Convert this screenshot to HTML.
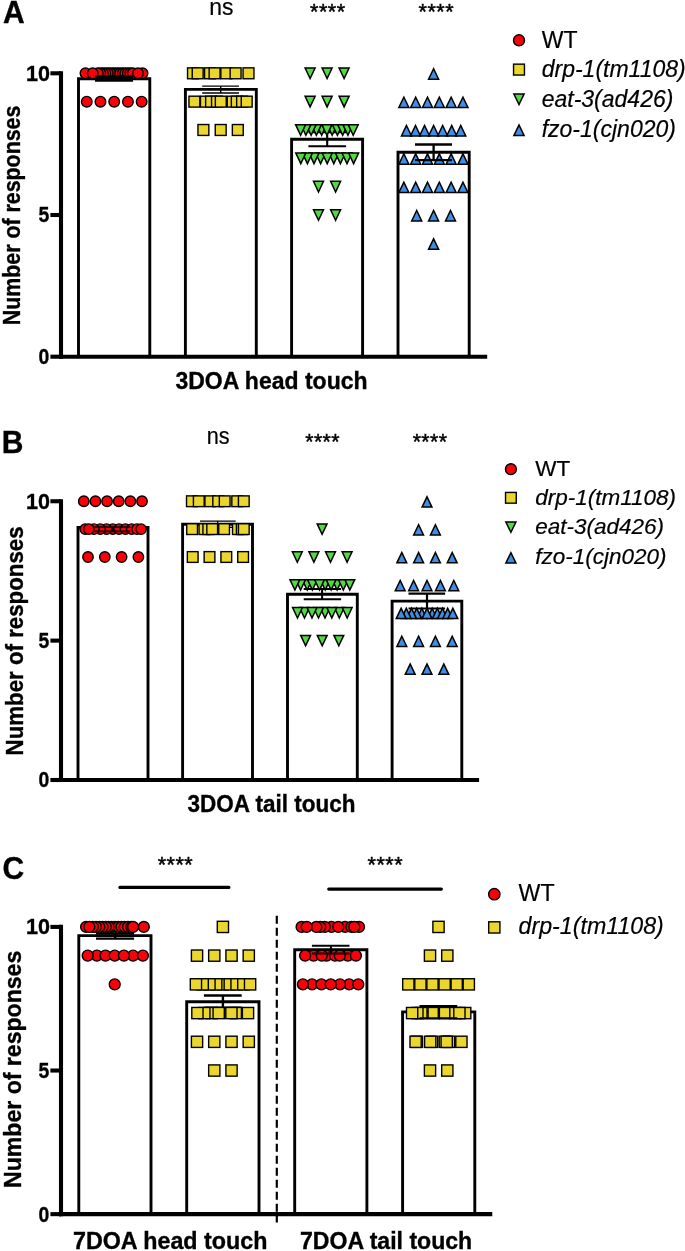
<!DOCTYPE html>
<html lang="en">
<head>
<meta charset="utf-8">
<title>Figure: touch responses</title>
<style>
html,body{margin:0;padding:0;background:#fff}
svg{display:block}
text{font-family:"Liberation Sans", sans-serif;fill:#000}
.c{fill:#fb0008;stroke:#000;stroke-width:1.4}
.s{fill:#ead62d;stroke:#000;stroke-width:1.4;stroke-linejoin:miter}
.d{fill:#52d943;stroke:#000;stroke-width:1.5;stroke-linejoin:miter}
.u{fill:#3f8ee6;stroke:#000;stroke-width:1.5;stroke-linejoin:miter}
</style>
</head>
<body>
<svg width="685" height="1251" viewBox="0 0 685 1251">
<rect x="0" y="0" width="685" height="1251" fill="#fff"/>
<g id="panelA">
<text x="3" y="23.4" font-size="30.8" font-weight="bold" stroke="#000" stroke-width="0.35" textLength="21.67" lengthAdjust="spacingAndGlyphs">A</text>
<text transform="translate(20 325.2) rotate(-90)" font-size="23.7" font-weight="bold" stroke="#000" stroke-width="0.35" textLength="219.5" lengthAdjust="spacingAndGlyphs">Number of responses</text>
<text x="271.5" y="388.5" font-size="23.7" font-weight="bold" stroke="#000" stroke-width="0.35" text-anchor="middle" textLength="192.1" lengthAdjust="spacingAndGlyphs">3DOA head touch</text>
<text x="221.3" y="15" font-size="24.5" stroke="#000" stroke-width="0.2" text-anchor="middle" textLength="24.2" lengthAdjust="spacingAndGlyphs">ns</text>
<text x="327.6" y="19" font-size="21.5" text-anchor="middle" textLength="35" stroke="#000" stroke-width="0.45">****</text>
<text x="436.1" y="19" font-size="21.5" text-anchor="middle" textLength="35" stroke="#000" stroke-width="0.45">****</text>
<path d="M78.5 356.7V78.7H149.8V356.7" fill="#fff" stroke="#000" stroke-width="2.9" stroke-linejoin="miter"/>
<path d="M185.4 356.7V89.4H256.3V356.7" fill="#fff" stroke="#000" stroke-width="2.9" stroke-linejoin="miter"/>
<path d="M291.6 356.7V139.2H362.6V356.7" fill="#fff" stroke="#000" stroke-width="2.9" stroke-linejoin="miter"/>
<path d="M398 356.7V152.2H469.2V356.7" fill="#fff" stroke="#000" stroke-width="2.9" stroke-linejoin="miter"/>
<circle cx="85.5" cy="73.3" r="5.3" class="c"/>
<circle cx="142.5" cy="73.3" r="5.3" class="c"/>
<circle cx="115.3" cy="73.3" r="5.3" class="c"/>
<circle cx="112.8" cy="73.3" r="5.3" class="c"/>
<circle cx="117.8" cy="73.3" r="5.3" class="c"/>
<circle cx="110.3" cy="73.3" r="5.3" class="c"/>
<circle cx="120.3" cy="73.3" r="5.3" class="c"/>
<circle cx="107.8" cy="73.3" r="5.3" class="c"/>
<circle cx="122.8" cy="73.3" r="5.3" class="c"/>
<circle cx="105.3" cy="73.3" r="5.3" class="c"/>
<circle cx="125.3" cy="73.3" r="5.3" class="c"/>
<circle cx="102.8" cy="73.3" r="5.3" class="c"/>
<circle cx="127.8" cy="73.3" r="5.3" class="c"/>
<circle cx="100.3" cy="73.3" r="5.3" class="c"/>
<circle cx="130.3" cy="73.3" r="5.3" class="c"/>
<circle cx="97.8" cy="73.3" r="5.3" class="c"/>
<circle cx="132.8" cy="73.3" r="5.3" class="c"/>
<circle cx="92.7" cy="73.3" r="5.3" class="c"/>
<circle cx="138" cy="73.3" r="5.3" class="c"/>
<circle cx="86.74" cy="101.64" r="5.3" class="c"/>
<circle cx="100.47" cy="101.64" r="5.3" class="c"/>
<circle cx="114.2" cy="101.64" r="5.3" class="c"/>
<circle cx="127.93" cy="101.64" r="5.3" class="c"/>
<circle cx="141.66" cy="101.64" r="5.3" class="c"/>
<line x1="114.3" y1="76.5" x2="114.3" y2="80.5" stroke="#000" stroke-width="2.4"/>
<line x1="95" y1="76.5" x2="133" y2="76.5" stroke="#000" stroke-width="2.4"/>
<line x1="95" y1="80.5" x2="133" y2="80.5" stroke="#000" stroke-width="2.4"/>
<line x1="95" y1="78.5" x2="133" y2="78.5" stroke="#000" stroke-width="3"/>
<line x1="220.7" y1="86.1" x2="220.7" y2="93" stroke="#000" stroke-width="1.4"/>
<line x1="202.2" y1="86.1" x2="239" y2="86.1" stroke="#000" stroke-width="1.4"/>
<line x1="202.2" y1="93" x2="239" y2="93" stroke="#000" stroke-width="1.4"/>
<rect x="187.55" y="67.85" width="10.9" height="10.9" class="s"/>
<rect x="192.25" y="67.85" width="10.9" height="10.9" class="s"/>
<rect x="204.55" y="67.85" width="10.9" height="10.9" class="s"/>
<rect x="209.15" y="67.85" width="10.9" height="10.9" class="s"/>
<rect x="220.85" y="67.85" width="10.9" height="10.9" class="s"/>
<rect x="230.15" y="67.85" width="10.9" height="10.9" class="s"/>
<rect x="243.05" y="67.85" width="10.9" height="10.9" class="s"/>
<rect x="188.95" y="96.19" width="10.9" height="10.9" class="s"/>
<rect x="200.45" y="96.19" width="10.9" height="10.9" class="s"/>
<rect x="205.65" y="96.19" width="10.9" height="10.9" class="s"/>
<rect x="211.55" y="96.19" width="10.9" height="10.9" class="s"/>
<rect x="215.35" y="96.19" width="10.9" height="10.9" class="s"/>
<rect x="227.25" y="96.19" width="10.9" height="10.9" class="s"/>
<rect x="231.35" y="96.19" width="10.9" height="10.9" class="s"/>
<rect x="236.65" y="96.19" width="10.9" height="10.9" class="s"/>
<rect x="241.25" y="96.19" width="10.9" height="10.9" class="s"/>
<rect x="197.95" y="124.53" width="10.9" height="10.9" class="s"/>
<rect x="215.25" y="124.53" width="10.9" height="10.9" class="s"/>
<rect x="232.35" y="124.53" width="10.9" height="10.9" class="s"/>
<line x1="327.2" y1="132.2" x2="327.2" y2="146.3" stroke="#000" stroke-width="2.1"/>
<line x1="308.4" y1="132.2" x2="346.1" y2="132.2" stroke="#000" stroke-width="2.1"/>
<line x1="308.4" y1="146.3" x2="346.1" y2="146.3" stroke="#000" stroke-width="2.1"/>
<path d="M305.1 68H315.1L310.1 78.6Z" class="d"/>
<path d="M322.1 68H332.1L327.1 78.6Z" class="d"/>
<path d="M339.1 68H349.1L344.1 78.6Z" class="d"/>
<path d="M305.1 96.34H315.1L310.1 106.94Z" class="d"/>
<path d="M322.1 96.34H332.1L327.1 106.94Z" class="d"/>
<path d="M339.1 96.34H349.1L344.1 106.94Z" class="d"/>
<path d="M316.64 124.68H326.64L321.64 135.28Z" class="d"/>
<path d="M327.16 124.68H337.16L332.16 135.28Z" class="d"/>
<path d="M311.38 124.68H321.38L316.38 135.28Z" class="d"/>
<path d="M332.42 124.68H342.42L337.42 135.28Z" class="d"/>
<path d="M306.12 124.68H316.12L311.12 135.28Z" class="d"/>
<path d="M337.68 124.68H347.68L342.68 135.28Z" class="d"/>
<path d="M300.86 124.68H310.86L305.86 135.28Z" class="d"/>
<path d="M342.94 124.68H352.94L347.94 135.28Z" class="d"/>
<path d="M295.6 124.68H305.6L300.6 135.28Z" class="d"/>
<path d="M348.2 124.68H358.2L353.2 135.28Z" class="d"/>
<path d="M321.9 124.68H331.9L326.9 135.28Z" class="d"/>
<path d="M315.6 153.02H325.6L320.6 163.62Z" class="d"/>
<path d="M328.8 153.02H338.8L333.8 163.62Z" class="d"/>
<path d="M309 153.02H319L314 163.62Z" class="d"/>
<path d="M335.4 153.02H345.4L340.4 163.62Z" class="d"/>
<path d="M302.4 153.02H312.4L307.4 163.62Z" class="d"/>
<path d="M342 153.02H352L347 163.62Z" class="d"/>
<path d="M295.8 153.02H305.8L300.8 163.62Z" class="d"/>
<path d="M348.6 153.02H358.6L353.6 163.62Z" class="d"/>
<path d="M322.2 153.02H332.2L327.2 163.62Z" class="d"/>
<path d="M313.5 181.36H323.5L318.5 191.96Z" class="d"/>
<path d="M330.6 181.36H340.6L335.6 191.96Z" class="d"/>
<path d="M313.5 209.7H323.5L318.5 220.3Z" class="d"/>
<path d="M330.6 209.7H340.6L335.6 220.3Z" class="d"/>
<path d="M428.6 79.2H438.6L433.6 68.8Z" class="u"/>
<path d="M398.85 107.54H408.85L403.85 97.14Z" class="u"/>
<path d="M410.67 107.54H420.67L415.67 97.14Z" class="u"/>
<path d="M422.49 107.54H432.49L427.49 97.14Z" class="u"/>
<path d="M434.31 107.54H444.31L439.31 97.14Z" class="u"/>
<path d="M446.13 107.54H456.13L451.13 97.14Z" class="u"/>
<path d="M457.95 107.54H467.95L462.95 97.14Z" class="u"/>
<path d="M401.45 135.88H411.45L406.45 125.48Z" class="u"/>
<path d="M410.5 135.88H420.5L415.5 125.48Z" class="u"/>
<path d="M419.55 135.88H429.55L424.55 125.48Z" class="u"/>
<path d="M428.6 135.88H438.6L433.6 125.48Z" class="u"/>
<path d="M437.65 135.88H447.65L442.65 125.48Z" class="u"/>
<path d="M446.7 135.88H456.7L451.7 125.48Z" class="u"/>
<path d="M455.75 135.88H465.75L460.75 125.48Z" class="u"/>
<path d="M398.85 164.22H408.85L403.85 153.82Z" class="u"/>
<path d="M410.67 164.22H420.67L415.67 153.82Z" class="u"/>
<path d="M422.49 164.22H432.49L427.49 153.82Z" class="u"/>
<path d="M434.31 164.22H444.31L439.31 153.82Z" class="u"/>
<path d="M446.13 164.22H456.13L451.13 153.82Z" class="u"/>
<path d="M457.95 164.22H467.95L462.95 153.82Z" class="u"/>
<path d="M398.85 192.56H408.85L403.85 182.16Z" class="u"/>
<path d="M410.67 192.56H420.67L415.67 182.16Z" class="u"/>
<path d="M422.49 192.56H432.49L427.49 182.16Z" class="u"/>
<path d="M434.31 192.56H444.31L439.31 182.16Z" class="u"/>
<path d="M446.13 192.56H456.13L451.13 182.16Z" class="u"/>
<path d="M457.95 192.56H467.95L462.95 182.16Z" class="u"/>
<path d="M411.7 220.9H421.7L416.7 210.5Z" class="u"/>
<path d="M428.6 220.9H438.6L433.6 210.5Z" class="u"/>
<path d="M445.5 220.9H455.5L450.5 210.5Z" class="u"/>
<path d="M428.6 249.24H438.6L433.6 238.84Z" class="u"/>
<line x1="433.6" y1="144.5" x2="433.6" y2="160.2" stroke="#000" stroke-width="2.3"/>
<line x1="415" y1="144.5" x2="452" y2="144.5" stroke="#000" stroke-width="2.3"/>
<line x1="415" y1="160.2" x2="452" y2="160.2" stroke="#000" stroke-width="2.3"/>
<line x1="61" y1="71.25" x2="61" y2="358.75" stroke="#000" stroke-width="4.1"/>
<line x1="58.95" y1="356.7" x2="487.2" y2="356.7" stroke="#000" stroke-width="4.1"/>
<line x1="50.4" y1="73.3" x2="61" y2="73.3" stroke="#000" stroke-width="4.1"/>
<text x="50" y="80.76" font-size="22.6" font-weight="bold" stroke="#000" stroke-width="0.35" text-anchor="end" textLength="24" lengthAdjust="spacingAndGlyphs">10</text>
<line x1="50.4" y1="215" x2="61" y2="215" stroke="#000" stroke-width="4.1"/>
<text x="49.2" y="222.46" font-size="22.6" font-weight="bold" stroke="#000" stroke-width="0.35" text-anchor="end" textLength="10.8" lengthAdjust="spacingAndGlyphs">5</text>
<line x1="50.4" y1="356.7" x2="61" y2="356.7" stroke="#000" stroke-width="4.1"/>
<text x="49.2" y="364.16" font-size="22.6" font-weight="bold" stroke="#000" stroke-width="0.35" text-anchor="end" textLength="10.8" lengthAdjust="spacingAndGlyphs">0</text>
<circle cx="519" cy="40.3" r="5.5" class="c"/>
<text x="541.7" y="47.6" font-size="23.69" stroke="#000" stroke-width="0.2" textLength="35.76" lengthAdjust="spacingAndGlyphs">WT</text>
<rect x="513.55" y="64.15" width="10.9" height="10.9" class="s"/>
<text x="541.7" y="76.7" font-size="23.69" stroke="#000" stroke-width="0.2" font-style="italic" textLength="144.02" lengthAdjust="spacingAndGlyphs">drp-1(tm1108)</text>
<path d="M513.9 94.1H524.1L519 104.5Z" class="d"/>
<text x="541.7" y="106.7" font-size="23.69" stroke="#000" stroke-width="0.2" font-style="italic" textLength="131.7" lengthAdjust="spacingAndGlyphs">eat-3(ad426)</text>
<path d="M513.9 135.6H524.1L519 125Z" class="u"/>
<text x="541.7" y="137" font-size="23.69" stroke="#000" stroke-width="0.2" font-style="italic" textLength="134.23" lengthAdjust="spacingAndGlyphs">fzo-1(cjn020)</text>
</g>
<g id="panelB">
<text x="1.7" y="453.3" font-size="30.7" font-weight="bold" stroke="#000" stroke-width="0.35" textLength="21.67" lengthAdjust="spacingAndGlyphs">B</text>
<text transform="translate(22.8 755.4) rotate(-90)" font-size="23.7" font-weight="bold" stroke="#000" stroke-width="0.35" textLength="229" lengthAdjust="spacingAndGlyphs">Number of responses</text>
<text x="271.5" y="812.3" font-size="23.2" font-weight="bold" stroke="#000" stroke-width="0.35" text-anchor="middle" textLength="167.9" lengthAdjust="spacingAndGlyphs">3DOA tail touch</text>
<text x="218.2" y="444.2" font-size="23" stroke="#000" stroke-width="0.2" text-anchor="middle" textLength="22.9" lengthAdjust="spacingAndGlyphs">ns</text>
<text x="322.4" y="448.5" font-size="21.2" text-anchor="middle" textLength="34.2" stroke="#000" stroke-width="0.45">****</text>
<text x="429.8" y="448.5" font-size="21.2" text-anchor="middle" textLength="34.2" stroke="#000" stroke-width="0.45">****</text>
<path d="M78 780V527.4H148V780" fill="#fff" stroke="#000" stroke-width="2.9" stroke-linejoin="miter"/>
<path d="M182.6 780V524.2H252.5V780" fill="#fff" stroke="#000" stroke-width="2.9" stroke-linejoin="miter"/>
<path d="M287.5 780V594.3H357.3V780" fill="#fff" stroke="#000" stroke-width="2.9" stroke-linejoin="miter"/>
<path d="M392.1 780V601.1H461.8V780" fill="#fff" stroke="#000" stroke-width="2.9" stroke-linejoin="miter"/>
<circle cx="83.8" cy="501.25" r="5.22" class="c"/>
<circle cx="95.44" cy="501.25" r="5.22" class="c"/>
<circle cx="107.08" cy="501.25" r="5.22" class="c"/>
<circle cx="118.72" cy="501.25" r="5.22" class="c"/>
<circle cx="130.36" cy="501.25" r="5.22" class="c"/>
<circle cx="142" cy="501.25" r="5.22" class="c"/>
<circle cx="85.2" cy="529.12" r="5.22" class="c"/>
<circle cx="112.8" cy="529.12" r="5.22" class="c"/>
<circle cx="106.5" cy="529.12" r="5.22" class="c"/>
<circle cx="119.1" cy="529.12" r="5.22" class="c"/>
<circle cx="100.2" cy="529.12" r="5.22" class="c"/>
<circle cx="125.4" cy="529.12" r="5.22" class="c"/>
<circle cx="93.9" cy="529.12" r="5.22" class="c"/>
<circle cx="131.7" cy="529.12" r="5.22" class="c"/>
<circle cx="137" cy="529.12" r="5.22" class="c"/>
<circle cx="88.8" cy="529.12" r="5.22" class="c"/>
<circle cx="141.1" cy="529.12" r="5.22" class="c"/>
<circle cx="88" cy="557" r="5.22" class="c"/>
<circle cx="104.8" cy="557" r="5.22" class="c"/>
<circle cx="121.6" cy="557" r="5.22" class="c"/>
<circle cx="138.4" cy="557" r="5.22" class="c"/>
<line x1="112.6" y1="527" x2="112.6" y2="531.4" stroke="#000" stroke-width="1.7"/>
<line x1="94.3" y1="527" x2="130.4" y2="527" stroke="#000" stroke-width="1.7"/>
<line x1="94.3" y1="531.4" x2="130.4" y2="531.4" stroke="#000" stroke-width="1.7"/>
<line x1="217.7" y1="521.1" x2="217.7" y2="527.3" stroke="#000" stroke-width="1.2"/>
<line x1="200" y1="521.1" x2="235.7" y2="521.1" stroke="#000" stroke-width="1.2"/>
<line x1="200" y1="527.3" x2="235.7" y2="527.3" stroke="#000" stroke-width="1.2"/>
<rect x="186.53" y="495.88" width="10.74" height="10.74" class="s"/>
<rect x="193.43" y="495.88" width="10.74" height="10.74" class="s"/>
<rect x="204.93" y="495.88" width="10.74" height="10.74" class="s"/>
<rect x="212.83" y="495.88" width="10.74" height="10.74" class="s"/>
<rect x="219.33" y="495.88" width="10.74" height="10.74" class="s"/>
<rect x="231.83" y="495.88" width="10.74" height="10.74" class="s"/>
<rect x="238.43" y="495.88" width="10.74" height="10.74" class="s"/>
<rect x="186.73" y="523.76" width="10.74" height="10.74" class="s"/>
<rect x="199.03" y="523.76" width="10.74" height="10.74" class="s"/>
<rect x="202.93" y="523.76" width="10.74" height="10.74" class="s"/>
<rect x="206.83" y="523.76" width="10.74" height="10.74" class="s"/>
<rect x="218.73" y="523.76" width="10.74" height="10.74" class="s"/>
<rect x="232.53" y="523.76" width="10.74" height="10.74" class="s"/>
<rect x="236.43" y="523.76" width="10.74" height="10.74" class="s"/>
<rect x="238.43" y="523.76" width="10.74" height="10.74" class="s"/>
<rect x="187.33" y="551.63" width="10.74" height="10.74" class="s"/>
<rect x="204.13" y="551.63" width="10.74" height="10.74" class="s"/>
<rect x="220.93" y="551.63" width="10.74" height="10.74" class="s"/>
<rect x="237.73" y="551.63" width="10.74" height="10.74" class="s"/>
<line x1="322.1" y1="588.9" x2="322.1" y2="599.3" stroke="#000" stroke-width="2"/>
<line x1="303.7" y1="588.9" x2="341.1" y2="588.9" stroke="#000" stroke-width="2"/>
<line x1="303.7" y1="599.3" x2="341.1" y2="599.3" stroke="#000" stroke-width="2"/>
<path d="M317.18 523.9H327.03L322.1 534.35Z" class="d"/>
<path d="M292.38 551.78H302.23L297.3 562.22Z" class="d"/>
<path d="M308.97 551.78H318.82L313.9 562.22Z" class="d"/>
<path d="M325.57 551.78H335.43L330.5 562.22Z" class="d"/>
<path d="M342.17 551.78H352.02L347.1 562.22Z" class="d"/>
<path d="M302.27 579.65H312.12L307.2 590.1Z" class="d"/>
<path d="M320.27 579.65H330.12L325.2 590.1Z" class="d"/>
<path d="M332.18 579.65H342.03L337.1 590.1Z" class="d"/>
<path d="M295.68 579.65H305.53L300.6 590.1Z" class="d"/>
<path d="M307.47 579.65H317.32L312.4 590.1Z" class="d"/>
<path d="M338.38 579.65H348.23L343.3 590.1Z" class="d"/>
<path d="M289.97 579.65H299.82L294.9 590.1Z" class="d"/>
<path d="M314.57 579.65H324.43L319.5 590.1Z" class="d"/>
<path d="M326.18 579.65H336.03L331.1 590.1Z" class="d"/>
<path d="M344.88 579.65H354.73L349.8 590.1Z" class="d"/>
<path d="M320.07 607.53H329.93L325 617.97Z" class="d"/>
<path d="M313.57 607.53H323.43L318.5 617.97Z" class="d"/>
<path d="M299.57 607.53H309.43L304.5 617.97Z" class="d"/>
<path d="M334.38 607.53H344.23L339.3 617.97Z" class="d"/>
<path d="M292.57 607.53H302.43L297.5 617.97Z" class="d"/>
<path d="M307.07 607.53H316.93L312 617.97Z" class="d"/>
<path d="M326.88 607.53H336.73L331.8 617.97Z" class="d"/>
<path d="M342.27 607.53H352.12L347.2 617.97Z" class="d"/>
<path d="M300.67 635.4H310.52L305.6 645.85Z" class="d"/>
<path d="M317.27 635.4H327.12L322.2 645.85Z" class="d"/>
<path d="M333.88 635.4H343.73L338.8 645.85Z" class="d"/>
<path d="M422.07 507.06H431.93L427 496.82Z" class="u"/>
<path d="M413.68 534.94H423.53L418.6 524.69Z" class="u"/>
<path d="M430.47 534.94H440.32L435.4 524.69Z" class="u"/>
<path d="M396.88 562.81H406.73L401.8 552.57Z" class="u"/>
<path d="M413.68 562.81H423.53L418.6 552.57Z" class="u"/>
<path d="M430.47 562.81H440.32L435.4 552.57Z" class="u"/>
<path d="M447.27 562.81H457.12L452.2 552.57Z" class="u"/>
<path d="M395.27 590.69H405.12L400.2 580.44Z" class="u"/>
<path d="M408.68 590.69H418.53L413.6 580.44Z" class="u"/>
<path d="M422.07 590.69H431.93L427 580.44Z" class="u"/>
<path d="M435.47 590.69H445.32L440.4 580.44Z" class="u"/>
<path d="M448.88 590.69H458.73L453.8 580.44Z" class="u"/>
<path d="M416.9 618.56H426.75L421.83 608.32Z" class="u"/>
<path d="M427.25 618.56H437.1L432.17 608.32Z" class="u"/>
<path d="M411.74 618.56H421.59L416.66 608.32Z" class="u"/>
<path d="M432.41 618.56H442.26L437.34 608.32Z" class="u"/>
<path d="M406.56 618.56H416.42L411.49 608.32Z" class="u"/>
<path d="M437.58 618.56H447.44L442.51 608.32Z" class="u"/>
<path d="M401.39 618.56H411.25L406.32 608.32Z" class="u"/>
<path d="M442.75 618.56H452.61L447.68 608.32Z" class="u"/>
<path d="M396.22 618.56H406.07L401.15 608.32Z" class="u"/>
<path d="M447.93 618.56H457.78L452.85 608.32Z" class="u"/>
<path d="M422.07 618.56H431.93L427 608.32Z" class="u"/>
<path d="M396.88 646.44H406.73L401.8 636.19Z" class="u"/>
<path d="M413.68 646.44H423.53L418.6 636.19Z" class="u"/>
<path d="M430.47 646.44H440.32L435.4 636.19Z" class="u"/>
<path d="M447.27 646.44H457.12L452.2 636.19Z" class="u"/>
<path d="M405.27 674.31H415.12L410.2 664.07Z" class="u"/>
<path d="M422.07 674.31H431.93L427 664.07Z" class="u"/>
<path d="M438.88 674.31H448.73L443.8 664.07Z" class="u"/>
<line x1="427" y1="593.7" x2="427" y2="608.5" stroke="#000" stroke-width="2.2"/>
<line x1="408.5" y1="593.7" x2="445.1" y2="593.7" stroke="#000" stroke-width="2.2"/>
<line x1="408.5" y1="608.5" x2="445.1" y2="608.5" stroke="#000" stroke-width="2.2"/>
<line x1="61" y1="499.2" x2="61" y2="782.05" stroke="#000" stroke-width="4.1"/>
<line x1="58.95" y1="780" x2="479.1" y2="780" stroke="#000" stroke-width="4.1"/>
<line x1="50.4" y1="501.25" x2="61" y2="501.25" stroke="#000" stroke-width="4.1"/>
<text x="50" y="508.71" font-size="22.6" font-weight="bold" stroke="#000" stroke-width="0.35" text-anchor="end" textLength="24" lengthAdjust="spacingAndGlyphs">10</text>
<line x1="50.4" y1="640.62" x2="61" y2="640.62" stroke="#000" stroke-width="4.1"/>
<text x="49.2" y="648.08" font-size="22.6" font-weight="bold" stroke="#000" stroke-width="0.35" text-anchor="end" textLength="10.8" lengthAdjust="spacingAndGlyphs">5</text>
<line x1="50.4" y1="780" x2="61" y2="780" stroke="#000" stroke-width="4.1"/>
<text x="49.2" y="787.46" font-size="22.6" font-weight="bold" stroke="#000" stroke-width="0.35" text-anchor="end" textLength="10.8" lengthAdjust="spacingAndGlyphs">0</text>
<circle cx="510.9" cy="469.2" r="5.42" class="c"/>
<text x="535.2" y="476" font-size="22.84" stroke="#000" stroke-width="0.2" textLength="34.98" lengthAdjust="spacingAndGlyphs">WT</text>
<rect x="505.53" y="492.43" width="10.74" height="10.74" class="s"/>
<text x="535.2" y="504.8" font-size="22.84" stroke="#000" stroke-width="0.2" font-style="italic" textLength="140.89" lengthAdjust="spacingAndGlyphs">drp-1(tm1108)</text>
<path d="M505.88 522.08H515.92L510.9 532.32Z" class="d"/>
<text x="535.2" y="534.1" font-size="22.84" stroke="#000" stroke-width="0.2" font-style="italic" textLength="128.84" lengthAdjust="spacingAndGlyphs">eat-3(ad426)</text>
<path d="M505.88 563.12H515.92L510.9 552.68Z" class="u"/>
<text x="535.2" y="564" font-size="22.84" stroke="#000" stroke-width="0.2" font-style="italic" textLength="131.31" lengthAdjust="spacingAndGlyphs">fzo-1(cjn020)</text>
</g>
<g id="panelC">
<text x="2.6" y="878.8" font-size="31.2" font-weight="bold" stroke="#000" stroke-width="0.35" textLength="21.67" lengthAdjust="spacingAndGlyphs">C</text>
<text transform="translate(20.8 1188) rotate(-90)" font-size="23.7" font-weight="bold" stroke="#000" stroke-width="0.35" textLength="237.3" lengthAdjust="spacingAndGlyphs">Number of responses</text>
<text x="73" y="1248.6" font-size="23.7" font-weight="bold" stroke="#000" stroke-width="0.35" textLength="194.4" lengthAdjust="spacingAndGlyphs">7DOA head touch</text>
<text x="300" y="1248.6" font-size="23.7" font-weight="bold" stroke="#000" stroke-width="0.35" textLength="172.2" lengthAdjust="spacingAndGlyphs">7DOA tail touch</text>
<text x="175.2" y="871.8" font-size="21.5" text-anchor="middle" textLength="35" stroke="#000" stroke-width="0.45">****</text>
<text x="385.1" y="871.8" font-size="21.5" text-anchor="middle" textLength="35" stroke="#000" stroke-width="0.45">****</text>
<line x1="119.9" y1="887.4" x2="228.9" y2="887.4" stroke="#000" stroke-width="3.1" stroke-linecap="round"/>
<line x1="328.7" y1="889.1" x2="441.4" y2="889.1" stroke="#000" stroke-width="3.1" stroke-linecap="round"/>
<line x1="276.8" y1="915.7" x2="276.8" y2="1222.5" stroke="#000" stroke-width="2.2" stroke-dasharray="8 4"/>
<path d="M78.8 1214.15V935.6H151V1214.15" fill="#fff" stroke="#000" stroke-width="2.9" stroke-linejoin="miter"/>
<path d="M186.7 1214.15V1001.7H259V1214.15" fill="#fff" stroke="#000" stroke-width="2.9" stroke-linejoin="miter"/>
<path d="M294.7 1214.15V949.8H366.9V1214.15" fill="#fff" stroke="#000" stroke-width="2.9" stroke-linejoin="miter"/>
<path d="M402.6 1214.15V1011.9H474.8V1214.15" fill="#fff" stroke="#000" stroke-width="2.9" stroke-linejoin="miter"/>
<circle cx="115" cy="926.9" r="5.46" class="c"/>
<circle cx="111.7" cy="926.9" r="5.46" class="c"/>
<circle cx="118.3" cy="926.9" r="5.46" class="c"/>
<circle cx="108.5" cy="926.9" r="5.46" class="c"/>
<circle cx="105.8" cy="926.9" r="5.46" class="c"/>
<circle cx="102.5" cy="926.9" r="5.46" class="c"/>
<circle cx="99.3" cy="926.9" r="5.46" class="c"/>
<circle cx="96" cy="926.9" r="5.46" class="c"/>
<circle cx="92.8" cy="926.9" r="5.46" class="c"/>
<circle cx="86.1" cy="926.9" r="5.46" class="c"/>
<circle cx="89.3" cy="926.9" r="5.46" class="c"/>
<circle cx="121.5" cy="926.9" r="5.46" class="c"/>
<circle cx="124.8" cy="926.9" r="5.46" class="c"/>
<circle cx="128" cy="926.9" r="5.46" class="c"/>
<circle cx="131.3" cy="926.9" r="5.46" class="c"/>
<circle cx="143.8" cy="926.9" r="5.46" class="c"/>
<circle cx="133.1" cy="926.9" r="5.46" class="c"/>
<circle cx="96.9" cy="955.62" r="5.46" class="c"/>
<circle cx="133.1" cy="955.62" r="5.46" class="c"/>
<circle cx="87.7" cy="955.62" r="5.46" class="c"/>
<circle cx="105.5" cy="955.62" r="5.46" class="c"/>
<circle cx="114.7" cy="955.62" r="5.46" class="c"/>
<circle cx="123.9" cy="955.62" r="5.46" class="c"/>
<circle cx="142.9" cy="955.62" r="5.46" class="c"/>
<circle cx="114.7" cy="984.35" r="5.46" class="c"/>
<line x1="115.2" y1="933.6" x2="115.2" y2="938.6" stroke="#000" stroke-width="2.4"/>
<line x1="96" y1="933.6" x2="134.1" y2="933.6" stroke="#000" stroke-width="2.4"/>
<line x1="96" y1="938.6" x2="134.1" y2="938.6" stroke="#000" stroke-width="2.4"/>
<line x1="222.9" y1="995.5" x2="222.9" y2="1007.6" stroke="#000" stroke-width="2.4"/>
<line x1="203.9" y1="995.5" x2="241.7" y2="995.5" stroke="#000" stroke-width="2.4"/>
<line x1="203.9" y1="1007.6" x2="241.7" y2="1007.6" stroke="#000" stroke-width="2.4"/>
<rect x="217.29" y="921.29" width="11.23" height="11.23" class="s"/>
<rect x="191.41" y="950.01" width="11.23" height="11.23" class="s"/>
<rect x="208.66" y="950.01" width="11.23" height="11.23" class="s"/>
<rect x="225.91" y="950.01" width="11.23" height="11.23" class="s"/>
<rect x="243.16" y="950.01" width="11.23" height="11.23" class="s"/>
<rect x="217.39" y="978.74" width="11.23" height="11.23" class="s"/>
<rect x="210.62" y="978.74" width="11.23" height="11.23" class="s"/>
<rect x="224.16" y="978.74" width="11.23" height="11.23" class="s"/>
<rect x="203.85" y="978.74" width="11.23" height="11.23" class="s"/>
<rect x="230.93" y="978.74" width="11.23" height="11.23" class="s"/>
<rect x="197.08" y="978.74" width="11.23" height="11.23" class="s"/>
<rect x="237.7" y="978.74" width="11.23" height="11.23" class="s"/>
<rect x="190.31" y="978.74" width="11.23" height="11.23" class="s"/>
<rect x="244.47" y="978.74" width="11.23" height="11.23" class="s"/>
<rect x="205.89" y="1007.46" width="11.23" height="11.23" class="s"/>
<rect x="198.69" y="1007.46" width="11.23" height="11.23" class="s"/>
<rect x="230.19" y="1007.46" width="11.23" height="11.23" class="s"/>
<rect x="191.79" y="1007.46" width="11.23" height="11.23" class="s"/>
<rect x="213.09" y="1007.46" width="11.23" height="11.23" class="s"/>
<rect x="225.79" y="1007.46" width="11.23" height="11.23" class="s"/>
<rect x="242.39" y="1007.46" width="11.23" height="11.23" class="s"/>
<rect x="191.41" y="1036.19" width="11.23" height="11.23" class="s"/>
<rect x="208.66" y="1036.19" width="11.23" height="11.23" class="s"/>
<rect x="225.91" y="1036.19" width="11.23" height="11.23" class="s"/>
<rect x="243.16" y="1036.19" width="11.23" height="11.23" class="s"/>
<rect x="208.66" y="1064.91" width="11.23" height="11.23" class="s"/>
<rect x="225.91" y="1064.91" width="11.23" height="11.23" class="s"/>
<circle cx="331.5" cy="926.9" r="5.46" class="c"/>
<circle cx="345" cy="926.9" r="5.46" class="c"/>
<circle cx="324.8" cy="926.9" r="5.46" class="c"/>
<circle cx="320.2" cy="926.9" r="5.46" class="c"/>
<circle cx="301.6" cy="926.9" r="5.46" class="c"/>
<circle cx="316.3" cy="926.9" r="5.46" class="c"/>
<circle cx="306.7" cy="926.9" r="5.46" class="c"/>
<circle cx="338.3" cy="926.9" r="5.46" class="c"/>
<circle cx="351.4" cy="926.9" r="5.46" class="c"/>
<circle cx="359" cy="926.9" r="5.46" class="c"/>
<circle cx="354.3" cy="926.9" r="5.46" class="c"/>
<circle cx="313.6" cy="955.62" r="5.46" class="c"/>
<circle cx="347.8" cy="955.62" r="5.46" class="c"/>
<circle cx="326.5" cy="955.62" r="5.46" class="c"/>
<circle cx="335" cy="955.62" r="5.46" class="c"/>
<circle cx="305.1" cy="955.62" r="5.46" class="c"/>
<circle cx="321.8" cy="955.62" r="5.46" class="c"/>
<circle cx="339.8" cy="955.62" r="5.46" class="c"/>
<circle cx="355.9" cy="955.62" r="5.46" class="c"/>
<circle cx="312.1" cy="984.35" r="5.46" class="c"/>
<circle cx="349.2" cy="984.35" r="5.46" class="c"/>
<circle cx="302.9" cy="984.35" r="5.46" class="c"/>
<circle cx="321.4" cy="984.35" r="5.46" class="c"/>
<circle cx="340" cy="984.35" r="5.46" class="c"/>
<circle cx="330.7" cy="984.35" r="5.46" class="c"/>
<circle cx="358.3" cy="984.35" r="5.46" class="c"/>
<line x1="330.9" y1="945.8" x2="330.9" y2="953.5" stroke="#000" stroke-width="2"/>
<line x1="311.9" y1="945.8" x2="349.5" y2="945.8" stroke="#000" stroke-width="2"/>
<line x1="311.9" y1="953.5" x2="349.5" y2="953.5" stroke="#000" stroke-width="2"/>
<rect x="432.89" y="921.29" width="11.23" height="11.23" class="s"/>
<rect x="424.39" y="950.01" width="11.23" height="11.23" class="s"/>
<rect x="441.69" y="950.01" width="11.23" height="11.23" class="s"/>
<rect x="402.69" y="978.74" width="11.23" height="11.23" class="s"/>
<rect x="414.79" y="978.74" width="11.23" height="11.23" class="s"/>
<rect x="426.89" y="978.74" width="11.23" height="11.23" class="s"/>
<rect x="438.99" y="978.74" width="11.23" height="11.23" class="s"/>
<rect x="451.09" y="978.74" width="11.23" height="11.23" class="s"/>
<rect x="463.19" y="978.74" width="11.23" height="11.23" class="s"/>
<rect x="415.79" y="1007.46" width="11.23" height="11.23" class="s"/>
<rect x="411.79" y="1007.46" width="11.23" height="11.23" class="s"/>
<rect x="406.49" y="1007.46" width="11.23" height="11.23" class="s"/>
<rect x="428.09" y="1007.46" width="11.23" height="11.23" class="s"/>
<rect x="439.39" y="1007.46" width="11.23" height="11.23" class="s"/>
<rect x="449.79" y="1007.46" width="11.23" height="11.23" class="s"/>
<rect x="459.59" y="1007.46" width="11.23" height="11.23" class="s"/>
<rect x="453.79" y="1007.46" width="11.23" height="11.23" class="s"/>
<rect x="411.29" y="1036.19" width="11.23" height="11.23" class="s"/>
<rect x="426.49" y="1036.19" width="11.23" height="11.23" class="s"/>
<rect x="439.19" y="1036.19" width="11.23" height="11.23" class="s"/>
<rect x="443.39" y="1036.19" width="11.23" height="11.23" class="s"/>
<rect x="409.99" y="1036.19" width="11.23" height="11.23" class="s"/>
<rect x="424.59" y="1036.19" width="11.23" height="11.23" class="s"/>
<rect x="441.09" y="1036.19" width="11.23" height="11.23" class="s"/>
<rect x="455.79" y="1036.19" width="11.23" height="11.23" class="s"/>
<rect x="424.39" y="1064.91" width="11.23" height="11.23" class="s"/>
<rect x="441.69" y="1064.91" width="11.23" height="11.23" class="s"/>
<line x1="438.6" y1="1005.9" x2="438.6" y2="1018.2" stroke="#000" stroke-width="2"/>
<line x1="419.5" y1="1005.9" x2="457.3" y2="1005.9" stroke="#000" stroke-width="2"/>
<line x1="419.5" y1="1018.2" x2="457.3" y2="1018.2" stroke="#000" stroke-width="2"/>
<line x1="61" y1="924.85" x2="61" y2="1216.2" stroke="#000" stroke-width="4.1"/>
<line x1="58.95" y1="1214.15" x2="492.3" y2="1214.15" stroke="#000" stroke-width="4.1"/>
<line x1="50.4" y1="926.9" x2="61" y2="926.9" stroke="#000" stroke-width="4.1"/>
<text x="50" y="934.36" font-size="22.6" font-weight="bold" stroke="#000" stroke-width="0.35" text-anchor="end" textLength="24" lengthAdjust="spacingAndGlyphs">10</text>
<line x1="50.4" y1="1070.53" x2="61" y2="1070.53" stroke="#000" stroke-width="4.1"/>
<text x="49.2" y="1077.98" font-size="22.6" font-weight="bold" stroke="#000" stroke-width="0.35" text-anchor="end" textLength="10.8" lengthAdjust="spacingAndGlyphs">5</text>
<line x1="50.4" y1="1214.15" x2="61" y2="1214.15" stroke="#000" stroke-width="4.1"/>
<text x="49.2" y="1221.61" font-size="22.6" font-weight="bold" stroke="#000" stroke-width="0.35" text-anchor="end" textLength="10.8" lengthAdjust="spacingAndGlyphs">0</text>
<circle cx="494.3" cy="894.2" r="5.67" class="c"/>
<text x="518.6" y="901.4" font-size="24.36" stroke="#000" stroke-width="0.2" textLength="36.07" lengthAdjust="spacingAndGlyphs">WT</text>
<rect x="488.69" y="921.79" width="11.23" height="11.23" class="s"/>
<text x="518.6" y="933.9" font-size="24.36" stroke="#000" stroke-width="0.2" font-style="italic" textLength="145.27" lengthAdjust="spacingAndGlyphs">drp-1(tm1108)</text>
</g>
</svg>
</body>
</html>
